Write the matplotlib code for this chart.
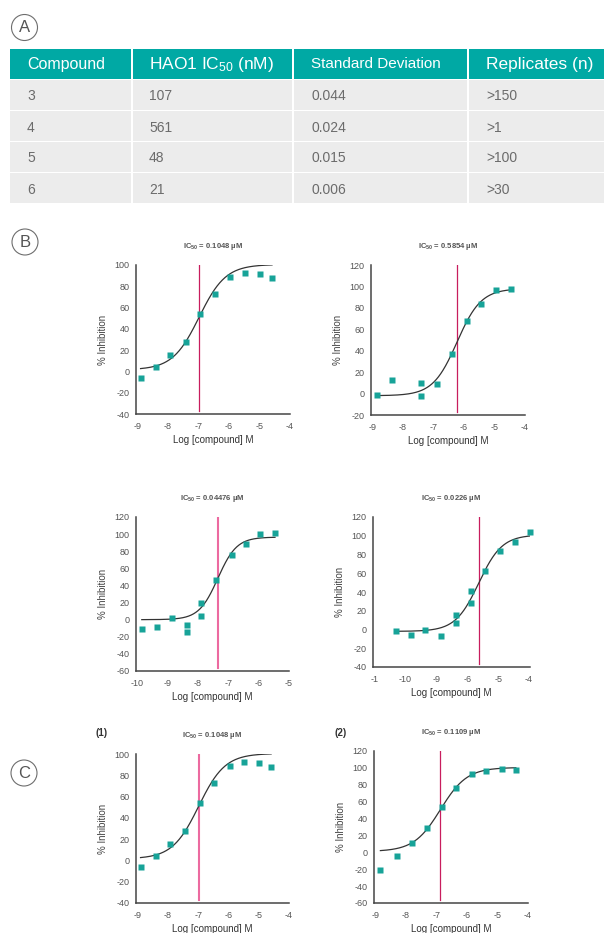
"""HAO1 IC50 summary table (A) with dose-response panels (B, C)."""

import matplotlib

matplotlib.use("Agg")
import matplotlib.pyplot as plt
import numpy as np
from matplotlib.patches import Circle, Rectangle

W, H = 604, 933

TEAL = "#00a9a4"
ROW_BG = "#ececec"
BODY_TXT = "#6b6b6b"
MARKER = "#17a398"
CRIMSON = "#c81d5e"
PINK = "#ec6aa0"
SPINE = "#454545"

# ---- table (A) ----
table_header = ["Compound", "HAO1 IC$_{50}$ (nM)", "Standard Deviation", "Replicates (n)"]
compounds = ["3", "4", "5", "6"]
ic50_nm = ["107", "561", "48", "21"]
std_dev = ["0.044", "0.024", "0.015", "0.006"]
replicates = [">150", ">1", ">100", ">30"]

# ---- dose-response data: log[compound] vs % inhibition ----
b1_logc = [-8.90, -8.40, -7.92, -7.42, -6.94, -6.47, -5.96, -5.49, -5.00, -4.59]
b1_inh = [-6.6, 3.7, 15.6, 28.0, 54.3, 73.1, 89.0, 92.5, 91.5, 88.0]
b1_fit = (1.5, 100.5, -6.98, 1.0)  # bottom, top, logIC50, hill
b1_ic50 = "0.1048"

b2_logc = [-8.86, -8.37, -7.41, -7.40, -6.90, -6.41, -5.90, -5.43, -4.95, -4.45]
b2_inh = [-1.1, 12.9, -2.0, 10.1, 9.2, 37.2, 68.0, 83.9, 96.7, 97.6]
b2_fit = (-2.0, 98.0, -6.23, 1.1)
b2_ic50 = "0.5854"

b3_logc = [-9.84, -9.35, -8.84, -8.34, -8.34, -7.88, -7.88, -7.39, -6.88, -6.43, -5.95, -5.46]
b3_inh = [-10.8, -8.5, 2.0, -6.2, -14.7, 19.5, 4.3, 46.4, 75.6, 88.5, 100.6, 101.3]
b3_fit = (0.0, 96.5, -7.34, 1.4)
b3_ic50 = "0.04476"

b4_logc = [-8.32, -7.83, -7.38, -6.86, -6.38, -6.38, -5.89, -5.89, -5.41, -4.95, -4.45, -3.98]
b4_inh = [-1.9, -5.9, -0.9, -6.9, 15.5, 6.6, 41.0, 28.3, 62.4, 83.7, 93.0, 104.0]
b4_fit = (-2.0, 101.0, -5.63, 1.15)
b4_ic50 = "0.0226"
b4_xticklabels = ["-1", "-10", "-9", "-6", "-5", "-4"]

c2_logc = [-8.84, -8.29, -7.79, -7.30, -6.82, -6.36, -5.84, -5.38, -4.84, -4.40]
c2_inh = [-20.8, -4.2, 10.9, 28.7, 53.6, 76.5, 92.3, 96.3, 98.6, 97.8]
c2_fit = (1.0, 100.5, -6.87, 1.0)
c2_ic50 = "0.1109"


def four_pl(x, bottom, top, log_ic50, hill):
    return bottom + (top - bottom) / (1.0 + 10.0 ** ((log_ic50 - x) * hill))


def px_axes(fig, left, top, right, bottom):
    """Axes placed by pixel edges (y measured from the top)."""
    return fig.add_axes([left / W, 1 - bottom / H, (right - left) / W, (bottom - top) / H])


def circled_letter(ax, cx, cy, letter):
    ax.add_patch(Circle((cx, cy), 13, fill=False, ec="#6e6e6e", lw=0.8))
    ax.text(cx, cy + 0.5, letter, ha="center", va="center", fontsize=12, color="#555555")


def draw_table(ax):
    col_edges = [10, 132, 293, 468, 604]
    text_x = [27, 149, 311, 486]
    head_sizes = [11.5, 12.5, 11, 12.5]
    body = [compounds, ic50_nm, std_dev, replicates]
    for r in range(5):
        top = 49 + 31 * r
        for c in range(4):
            x0 = col_edges[c] + (1 if c else 0)
            x1 = col_edges[c + 1] - (1 if c < 3 else 0)
            ax.add_patch(Rectangle((x0, top), x1 - x0, 29.5, color=TEAL if r == 0 else ROW_BG, lw=0))
            if r == 0:
                ax.text(text_x[c], top + 15.5, table_header[c], ha="left", va="center",
                        fontsize=head_sizes[c], color="white")
            else:
                ax.text(text_x[c], top + 16.5, body[c][r - 1], ha="left", va="center",
                        fontsize=10, color=BODY_TXT)


def draw_panel(fig, rect, logc, inh, fit, ic50_x, ic50_txt, xlim, ylim, xticks,
               line_color, line_w, xticklabels=None):
    ax = px_axes(fig, *rect)
    xs = np.linspace(min(logc), max(logc), 300)
    ax.plot(xs, four_pl(xs, *fit), color="#333333", lw=0.9, zorder=2)
    ax.axvline(ic50_x, ymin=0.02, ymax=1.0, color=line_color, lw=line_w, zorder=1)
    ax.plot(logc, inh, "s", color=MARKER, ms=4.6, mec="none", zorder=3, clip_on=False)

    ax.set_xlim(*xlim)
    ax.set_ylim(*ylim)
    ax.set_xticks(xticks)
    if xticklabels is not None:
        ax.set_xticklabels(xticklabels)
    ax.set_yticks(np.arange(ylim[0], ylim[1] + 1, 20))
    for side in ("top", "right"):
        ax.spines[side].set_visible(False)
    for side in ("left", "bottom"):
        ax.spines[side].set_color(SPINE)
        ax.spines[side].set_linewidth(1.1)
    ax.tick_params(length=0, labelsize=6.5, colors="#555555")
    ax.tick_params(axis="x", pad=5.5)
    ax.tick_params(axis="y", pad=4.5)
    ax.set_facecolor("none")

    ax.set_title(f"IC$_{{50}}$ = {ic50_txt} µM", fontsize=5.5, fontweight="bold",
                 color="#555555", pad=12)
    ax.set_ylabel("% Inhibition", fontsize=7, color="#444444", labelpad=5)
    ax.set_xlabel("Log [compound] M", fontsize=7, color="#333333", labelpad=3)
    return ax


plt.rcParams["font.family"] = ["Liberation Sans", "DejaVu Sans"]
plt.rcParams["mathtext.default"] = "regular"
plt.rcParams["axes.unicode_minus"] = False

fig = plt.figure(figsize=(W / 100, H / 100), dpi=100)
fig.patch.set_facecolor("white")

base = fig.add_axes([0, 0, 1, 1])
base.set_xlim(0, W)
base.set_ylim(H, 0)
base.axis("off")

circled_letter(base, 24.5, 27.5, "A")
circled_letter(base, 25, 242, "B")
circled_letter(base, 24, 773, "C")
draw_table(base)
base.text(102, 733, "(1)", ha="center", va="center", fontsize=7, fontweight="bold", color="#333333")
base.text(341, 733, "(2)", ha="center", va="center", fontsize=7, fontweight="bold", color="#333333")

steps_9_4 = [-9, -8, -7, -6, -5, -4]
draw_panel(fig, (136, 265, 290, 414), b1_logc, b1_inh, b1_fit, -6.98, b1_ic50,
           (-9.05, -4), (-40, 100), steps_9_4, CRIMSON, 0.9)
draw_panel(fig, (371, 265, 525, 415), b2_logc, b2_inh, b2_fit, -6.23, b2_ic50,
           (-9.05, -4), (-20, 120), steps_9_4, CRIMSON, 0.9)
draw_panel(fig, (136, 517, 289, 671), b3_logc, b3_inh, b3_fit, -7.34, b3_ic50,
           (-10.03, -5), (-60, 120), [-10, -9, -8, -7, -6, -5], PINK, 1.5)
draw_panel(fig, (373, 517, 530, 667), b4_logc, b4_inh, b4_fit, -5.63, b4_ic50,
           (-9.05, -3.97), (-40, 120), steps_9_4, CRIMSON, 0.9,
           xticklabels=b4_xticklabels)
draw_panel(fig, (136, 754, 289, 903), b1_logc, b1_inh, b1_fit, -6.98, b1_ic50,
           (-9.05, -4), (-40, 100), steps_9_4, PINK, 1.5)
draw_panel(fig, (374, 751, 528, 903), c2_logc, c2_inh, c2_fit, -6.87, c2_ic50,
           (-9.05, -4), (-60, 120), steps_9_4, CRIMSON, 0.9)

fig.savefig("out.png", dpi=100)
